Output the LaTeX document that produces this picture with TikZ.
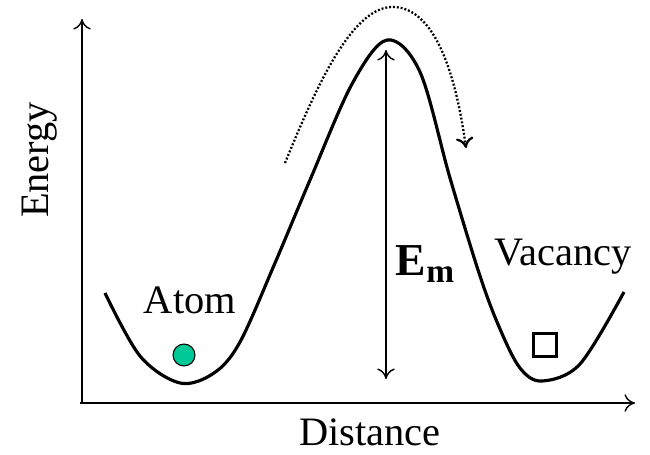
\documentclass[tikz,border=0pt]{standalone}
\usepackage{fontspec}
\setmainfont{Liberation Serif}
\usetikzlibrary{arrows.meta,positioning}
\definecolor{enAtom} {RGB}{  0,200,150}
\definecolor{enLine} {RGB}{  0,  0,  0}

\begin{document}
\begin{tikzpicture}[
  x=0.02cm,y=-0.02cm,
  every node/.style={font=\fontsize{23}{27}\selectfont,inner sep=0pt},
  axis/.style={draw=enLine,line width=0.8pt,-{To[length=6pt,width=10pt]}},
  well/.style={draw=enLine,line width=1.8pt,line join=round},
  hop/.style={draw=enLine,line width=1.3pt,dash pattern=on 1.1pt off 1.1pt,
              -{To[length=6pt,width=10pt]}},
  gap/.style={draw=enLine,line width=0.8pt,
              {To[length=6pt,width=10pt]}-{To[length=6pt,width=10pt]}},
  atom/.style={circle,draw=enLine,line width=0.6pt,fill=enAtom,minimum size=12.5pt},
  vac/.style={rectangle,draw=enLine,line width=1.8pt,minimum size=13pt}
]
\useasboundingbox (0,0) rectangle (650,454);
% Axes
\coordinate (O)    at (82,404);
\coordinate (Ytop) at (82,19);
\coordinate (Xend) at (635,403);
\draw[axis] (O) -- (Ytop);
\draw[axis] (80,403) coordinate (Xbeg) -- (Xend);
\node[rotate=90] (ylab) at (40,160) {Energy};
\node (xlab) at (370,432) {Distance};
% Energy landscape
\draw[well] plot[smooth,tension=0.55] coordinates {
  (105,293) (140,356) (180,383) (214,373) (240,342) (275,263)
  (310,180) (352,84) (387,40) (420,72) (450,178) (480,276)
  (500,329) (520,368) (542,381) (580,364) (624,292)};
% Migration barrier
\coordinate (Top)  at (386,50);
\coordinate (Base) at (386,379);
\draw[gap] (Top) -- (Base);
\node (Em) at (425,264) {\fontsize{26}{30}\selectfont\bfseries E\raisebox{-0.35ex}{\fontsize{19}{19}\selectfont m}};
% Hop of the atom over the barrier
\coordinate (H1) at (285,163);
\coordinate (H2) at (466,148);
\draw[hop] (H1) .. controls (315,90) and (352,4) .. (395,7)
               .. controls (440,10) and (458,90) .. (H2);
% Labels and markers
\node (atomlab) at (190,300) {Atom};
\node[atom] (atomdot) at (184,355) {};
\node (vaclab) at (563,257) {Vacancy};
\node[vac] (vacbox) at (545,345) {};
\end{tikzpicture}
\end{document}
